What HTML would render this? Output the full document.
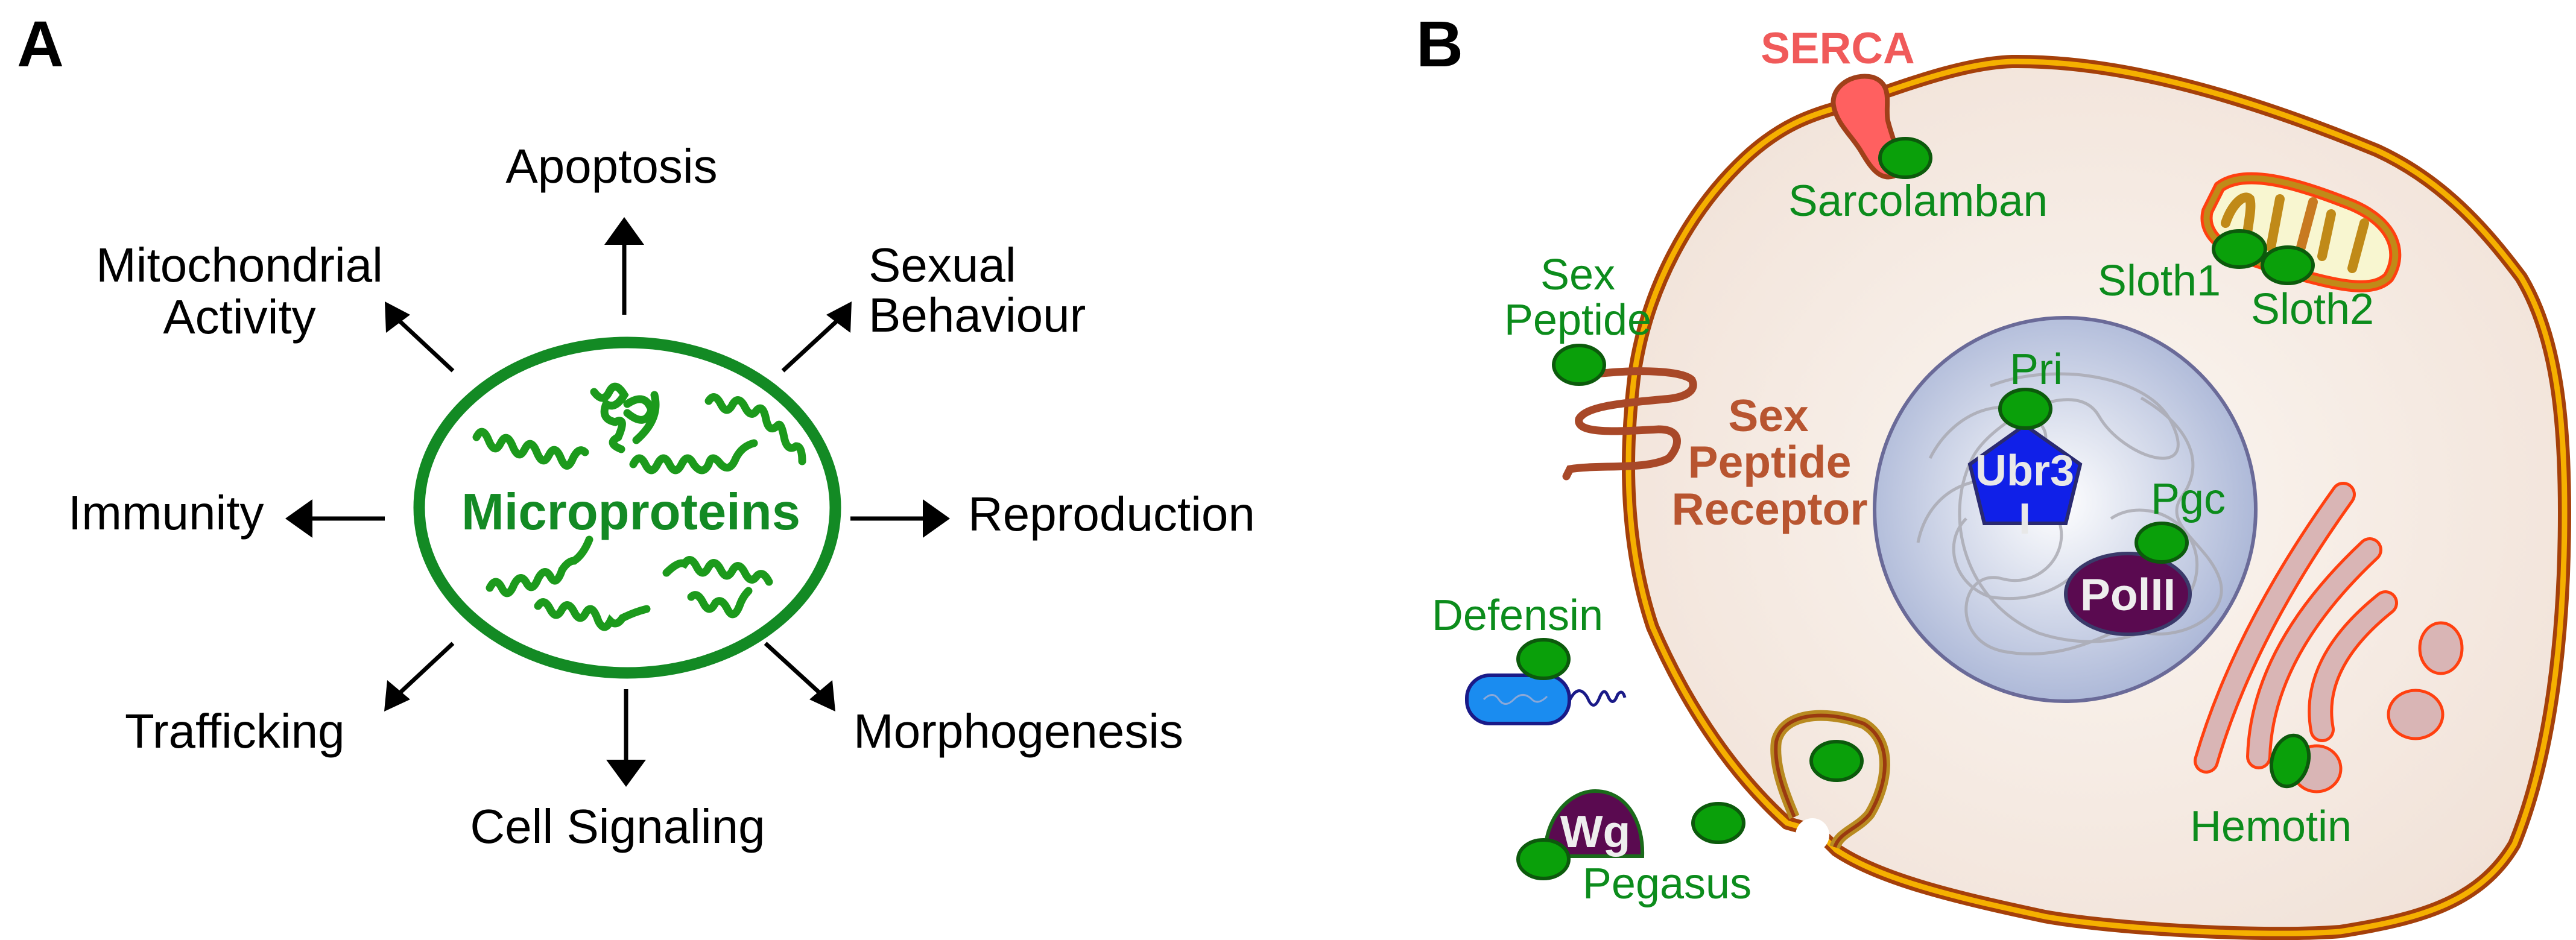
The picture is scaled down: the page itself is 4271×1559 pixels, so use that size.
<!DOCTYPE html>
<html><head><meta charset="utf-8"><style>
html,body{margin:0;padding:0;background:#fff;}
svg{display:block;}
text{font-family:"Liberation Sans",Arial,sans-serif;}
</style></head><body>
<svg width="4271" height="1559" viewBox="0 0 4271 1559" xmlns="http://www.w3.org/2000/svg">
<defs>
<radialGradient id="cellg" cx="0.5" cy="0.5" r="0.6"><stop offset="0" stop-color="#fbf6f1"/><stop offset="1" stop-color="#f1e2d8"/></radialGradient>
<radialGradient id="nucg" cx="0.48" cy="0.48" r="0.55"><stop offset="0" stop-color="#ffffff"/><stop offset="1" stop-color="#a9b5d6"/></radialGradient>
</defs>

<!-- Panel A -->
<text x="28" y="110" font-size="108" font-weight="bold">A</text>
<ellipse cx="1040" cy="842" rx="345" ry="274" fill="#fff" stroke="#138a24" stroke-width="19"/>
<text x="1046" y="878" font-size="85" font-weight="bold" fill="#138a24" text-anchor="middle">Microproteins</text>

<g font-size="80" fill="#000">
<text x="1014" y="303" text-anchor="middle">Apoptosis</text>
<text x="397" y="467" text-anchor="middle">Mitochondrial</text>
<text x="397" y="553" text-anchor="middle">Activity</text>
<text x="1440" y="467">Sexual</text>
<text x="1440" y="550">Behaviour</text>
<text x="113" y="878">Immunity</text>
<text x="1605" y="880">Reproduction</text>
<text x="207" y="1240">Trafficking</text>
<text x="1415" y="1240">Morphogenesis</text>
<text x="1024" y="1398" text-anchor="middle">Cell Signaling</text>
</g>

<g stroke="#000" stroke-width="7" fill="none">
<line x1="1035" y1="522" x2="1035" y2="400"/>
<line x1="751" y1="615" x2="662" y2="532"/>
<line x1="1298" y1="615" x2="1388" y2="532"/>
<line x1="638" y1="860" x2="510" y2="860"/>
<line x1="1410" y1="860" x2="1540" y2="860"/>
<line x1="751" y1="1067" x2="662" y2="1150"/>
<line x1="1269" y1="1067" x2="1360" y2="1150"/>
<line x1="1038" y1="1143" x2="1038" y2="1268"/>
</g>
<g fill="#000">
<polygon points="1035,360 1002,406 1068,406"/>
<polygon points="638,500 640,552 680,522"/>
<polygon points="1412,500 1370,522 1410,552"/>
<polygon points="473,860 518,828 518,892"/>
<polygon points="1575,860 1530,828 1530,892"/>
<polygon points="637,1180 680,1160 642,1128"/>
<polygon points="1385,1180 1380,1128 1342,1160"/>
<polygon points="1038,1305 1005,1260 1071,1260"/>
</g>

<!-- helices -->
<g fill="none" stroke="#1c9a1c" stroke-width="13" stroke-linecap="round">
<path d="M790,725 q10,-20 20,5 q10,25 20,5 q10,-20 20,5 q10,25 20,5 q10,-20 20,5 q10,25 20,5 q10,-20 20,5 q10,25 20,0 q10,-20 20,-10"/>
<path d="M985,650 q15,20 25,0 q10,-20 25,5 q-15,25 -30,15 q-10,25 15,30 q20,-10 5,25 q-20,10 5,20 M1040,670 q30,-20 40,10 q-10,30 -40,5 M1085,655 q10,40 -30,75"/>
<path d="M1175,665 q10,-15 20,5 q10,20 20,0 q10,-15 20,5 q10,20 20,5 q10,-10 15,15 q5,25 20,10 q5,-5 10,20 q5,25 20,15 q10,0 10,25"/>
<path d="M1050,770 q10,-20 20,0 q10,20 20,0 q10,-20 20,0 q10,20 20,0 q10,-20 20,0 q15,20 25,0 q5,-20 20,0 q15,15 25,-10 q10,-20 30,-25"/>
<path d="M812,975 q10,-20 20,0 q10,20 20,-5 q10,-20 20,-5 q10,20 20,-5 q10,-20 20,-5 q10,20 20,-10 q10,-15 20,-15 q15,-10 25,-35"/>
<path d="M1105,950 q20,-20 30,-15 q10,-15 20,5 q10,20 20,0 q10,-15 20,5 q10,20 20,0 q10,-15 20,5 q10,20 20,5 q10,-10 20,10"/>
<path d="M892,1005 q10,-15 20,5 q10,20 20,0 q10,-15 20,5 q10,20 20,0 q10,-15 20,15 q10,20 20,0 q10,10 20,-5 q20,-10 40,-15"/>
<path d="M1146,990 q10,-10 20,10 q10,20 20,0 q10,-10 20,10 q10,20 20,-5 q5,-15 15,-25"/>
</g>

<!-- Panel B -->
<text x="2348" y="110" font-size="108" font-weight="bold">B</text>

<path d="M3336,102 C3500,100 3700,150 3942,250 C4050,300 4120,380 4180,460 C4240,560 4252,700 4252,850 C4252,1050 4230,1250 4169,1400 C4110,1500 4005,1525 3880,1545 C3750,1555 3500,1540 3390,1520 C3250,1490 3120,1460 3045,1410 L3030,1395 C3010,1375 2985,1372 2963,1365 C2880,1290 2800,1180 2740,1040 C2700,920 2690,780 2710,620 C2730,480 2800,350 2894,262 C2950,210 3000,190 3060,175 C3150,145 3250,105 3336,102 Z" fill="url(#cellg)" stroke="#a5400a" stroke-width="22"/>
<path d="M3336,102 C3500,100 3700,150 3942,250 C4050,300 4120,380 4180,460 C4240,560 4252,700 4252,850 C4252,1050 4230,1250 4169,1400 C4110,1500 4005,1525 3880,1545 C3750,1555 3500,1540 3390,1520 C3250,1490 3120,1460 3045,1410 L3030,1395 C3010,1375 2985,1372 2963,1365 C2880,1290 2800,1180 2740,1040 C2700,920 2690,780 2710,620 C2730,480 2800,350 2894,262 C2950,210 3000,190 3060,175 C3150,145 3250,105 3336,102 Z" fill="none" stroke="#f5b000" stroke-width="9"/>
<circle cx="3005" cy="1385" r="28" fill="#fff"/>
<path d="M2975,1355 C2960,1320 2940,1270 2945,1230 C2955,1185 3020,1175 3090,1200 C3140,1230 3130,1300 3100,1350 C3080,1375 3050,1380 3042,1405" fill="none" stroke="#b88a20" stroke-width="18"/>
<path d="M2975,1355 C2960,1320 2940,1270 2945,1230 C2955,1185 3020,1175 3090,1200 C3140,1230 3130,1300 3100,1350 C3080,1375 3050,1380 3042,1405" fill="none" stroke="#9a3a10" stroke-width="6"/>

<ellipse cx="3424" cy="845" rx="316" ry="318" fill="url(#nucg)" stroke="#6a6a98" stroke-width="6"/>
<g fill="none" stroke="#a8a8b0" stroke-width="5" opacity="0.8">
<path d="M3300,640 C3400,600 3560,620 3600,700 C3650,800 3520,760 3480,690 C3440,620 3300,700 3270,760 C3220,860 3260,1000 3380,1050 C3500,1090 3620,1040 3640,960 C3660,870 3560,820 3500,860"/>
<path d="M3180,900 C3200,800 3300,770 3380,820 C3460,880 3400,980 3320,960 C3250,940 3230,1060 3320,1080 C3420,1100 3500,1050 3560,1020"/>
<path d="M3550,660 C3620,700 3660,760 3620,820 C3580,870 3660,900 3680,960 C3700,1020 3620,1060 3560,1050"/>
<path d="M3200,760 C3240,680 3330,650 3380,700 C3420,740 3350,790 3300,760"/>
<path d="M3450,940 C3420,980 3360,1000 3300,990 C3240,970 3220,900 3260,860"/>
</g>
<polygon points="3357,705 3449,770 3425,868 3290,868 3266,770" fill="#1020e8" stroke="#2a2a70" stroke-width="6"/>
<text x="3357" y="805" font-size="72" font-weight="bold" fill="#e8e8e8" text-anchor="middle">Ubr3</text>
<text x="3357" y="885" font-size="72" font-weight="bold" fill="#e8e8e8" text-anchor="middle">I</text>
<ellipse cx="3358" cy="678" rx="42" ry="32" fill="#0aa00a" stroke="#0c5a0c" stroke-width="6"/>
<text x="3376" y="637" font-size="72" fill="#0c8c1c" text-anchor="middle">Pri</text>
<ellipse cx="3528" cy="985" rx="103" ry="67" fill="#5a0a50" stroke="#3a3a6a" stroke-width="6"/>
<text x="3528" y="1012" font-size="75" font-weight="bold" fill="#eee" text-anchor="middle">PolII</text>
<ellipse cx="3584" cy="900" rx="42" ry="32" fill="#0aa00a" stroke="#0c5a0c" stroke-width="6"/>
<text x="3628" y="852" font-size="72" fill="#0c8c1c" text-anchor="middle">Pgc</text>

<text x="3047" y="105" font-size="73" font-weight="bold" fill="#f05a5a" text-anchor="middle">SERCA</text>
<path d="M3040,175 C3035,145 3070,120 3105,128 C3140,140 3125,175 3130,200 C3140,240 3160,275 3140,292 C3115,300 3100,275 3085,250 C3070,225 3045,205 3040,175 Z" fill="#ff6060" stroke="#a0401a" stroke-width="8"/>
<ellipse cx="3159" cy="262" rx="42" ry="32" fill="#0aa00a" stroke="#0c5a0c" stroke-width="6"/>
<text x="3180" y="358" font-size="73" fill="#0c8c1c" text-anchor="middle">Sarcolamban</text>

<path d="M3680,310 C3720,280 3800,300 3900,340 C3970,370 3985,420 3960,460 C3930,490 3860,470 3760,440 C3690,420 3650,390 3660,350 Z" fill="#f8f6d0" stroke="#ff4010" stroke-width="20"/>
<path d="M3680,310 C3720,280 3800,300 3900,340 C3970,370 3985,420 3960,460 C3930,490 3860,470 3760,440 C3690,420 3650,390 3660,350 Z" fill="none" stroke="#c08a18" stroke-width="10"/>
<g stroke="#c08a18" stroke-width="16" fill="none" stroke-linecap="round">
<path d="M3690,370 C3700,340 3720,320 3730,330 C3735,345 3725,380 3725,400"/>
<path d="M3780,330 L3765,410"/>
<path d="M3835,335 L3815,410" stroke="#c87a20"/>
<path d="M3865,355 L3850,425"/>
<path d="M3920,370 L3900,445"/>
</g>
<ellipse cx="3713" cy="413" rx="43" ry="30" fill="#0aa00a" stroke="#0c5a0c" stroke-width="6"/>
<ellipse cx="3793" cy="440" rx="42" ry="30" fill="#0aa00a" stroke="#0c5a0c" stroke-width="6"/>
<text x="3580" y="490" font-size="72" fill="#0c8c1c" text-anchor="middle">Sloth1</text>
<text x="3834" y="537" font-size="72" fill="#0c8c1c" text-anchor="middle">Sloth2</text>

<path d="M2647,620 C2720,612 2790,615 2805,630 C2815,650 2790,660 2760,662 C2700,668 2630,672 2618,695 C2612,720 2680,716 2750,712 C2790,712 2785,740 2767,760 C2730,780 2650,770 2603,778 L2597,790" fill="none" stroke="#a84828" stroke-width="13" stroke-linecap="round"/>
<ellipse cx="2618" cy="605" rx="42" ry="32" fill="#0aa00a" stroke="#0c5a0c" stroke-width="6"/>
<text x="2616" y="480" font-size="72" fill="#0c8c1c" text-anchor="middle">Sex</text>
<text x="2616" y="555" font-size="72" fill="#0c8c1c" text-anchor="middle">Peptide</text>
<g font-size="75" font-weight="bold" fill="#b85530" text-anchor="middle">
<text x="2932" y="715">Sex</text>
<text x="2934" y="792">Peptide</text>
<text x="2934" y="870">Receptor</text>
</g>

<text x="2516" y="1045" font-size="72" fill="#0c8c1c" text-anchor="middle">Defensin</text>
<rect x="2432" y="1120" width="170" height="80" rx="38" fill="#1a8cf0" stroke="#1a1a88" stroke-width="6"/>
<path d="M2460,1160 q15,-15 25,0 q10,15 25,0 q15,-15 30,0 q10,10 25,-5" fill="none" stroke="#8aa8d8" stroke-width="3"/>
<path d="M2602,1162 q15,-30 30,-5 q10,25 20,0 q8,-20 15,0 q8,15 15,-5 q8,-10 12,5" fill="none" stroke="#1a1a88" stroke-width="5"/>
<ellipse cx="2559" cy="1093" rx="42" ry="32" fill="#0aa00a" stroke="#0c5a0c" stroke-width="6"/>

<path d="M2562,1420 C2560,1360 2600,1312 2645,1312 C2695,1312 2725,1360 2723,1420 Z" fill="#5a0a50" stroke="#1a6a1a" stroke-width="6"/>
<text x="2645" y="1405" font-size="75" font-weight="bold" fill="#eee" text-anchor="middle">Wg</text>
<ellipse cx="2559" cy="1425" rx="42" ry="32" fill="#0aa00a" stroke="#0c5a0c" stroke-width="6"/>
<ellipse cx="2849" cy="1365" rx="42" ry="32" fill="#0aa00a" stroke="#0c5a0c" stroke-width="6"/>
<ellipse cx="3045" cy="1262" rx="42" ry="32" fill="#0aa00a" stroke="#0c5a0c" stroke-width="6"/>
<text x="2764" y="1490" font-size="72" fill="#0c8c1c" text-anchor="middle">Pegasus</text>

<g fill="none" stroke-linecap="round">
<path d="M3885,820 Q3720,1050 3658,1262" stroke="#ff4010" stroke-width="42"/>
<path d="M3929,912 Q3750,1080 3745,1255" stroke="#ff4010" stroke-width="42"/>
<path d="M3955,1000 Q3830,1100 3850,1210" stroke="#ff4010" stroke-width="42"/>
<path d="M3885,820 Q3720,1050 3658,1262" stroke="#d9b5b5" stroke-width="32"/>
<path d="M3929,912 Q3750,1080 3745,1255" stroke="#d9b5b5" stroke-width="32"/>
<path d="M3955,1000 Q3830,1100 3850,1210" stroke="#d9b5b5" stroke-width="32"/>
</g>
<ellipse cx="4047" cy="1075" rx="35" ry="42" fill="#d9b5b5" stroke="#ff4010" stroke-width="5"/>
<ellipse cx="4005" cy="1185" rx="45" ry="40" fill="#d9b5b5" stroke="#ff4010" stroke-width="5"/>
<ellipse cx="3841" cy="1275" rx="40" ry="38" fill="#d9b5b5" stroke="#ff4010" stroke-width="5"/>
<ellipse cx="3797" cy="1262" rx="30" ry="43" transform="rotate(15 3797 1262)" fill="#0aa00a" stroke="#0c5a0c" stroke-width="6"/>
<text x="3765" y="1395" font-size="72" fill="#0c8c1c" text-anchor="middle">Hemotin</text>
</svg>
</body></html>
